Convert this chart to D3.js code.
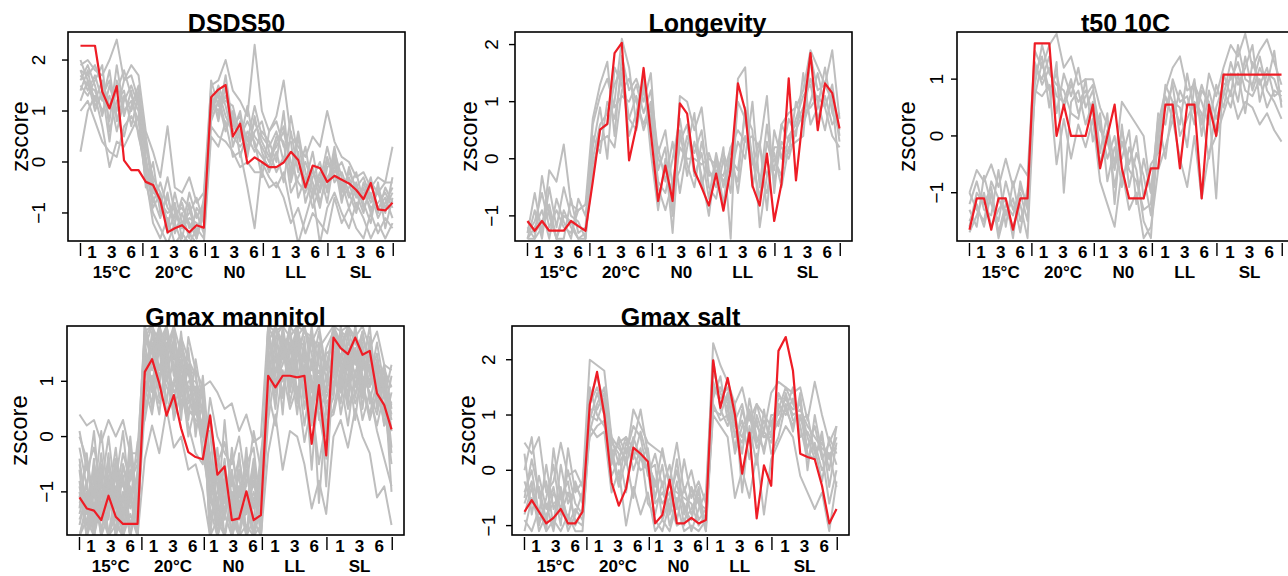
<!DOCTYPE html>
<html>
<head>
<meta charset="utf-8">
<script src="https://cdn.jsdelivr.net/npm/d3@7/dist/d3.min.js"></script>
<style>
  body { margin: 0; background: #fff; }
  text { font-family: 'Liberation Sans', Arial, sans-serif; }
</style>
</head>
<body>
<svg id="chart" width="1288" height="576"></svg>
<script>
// x axis: 44 samples, 5 conditions, time labels inside each condition
const groupLabels = ['15°C', '20°C', 'N0', 'LL', 'SL'];
const timeLabels = ['1', '3', '6'];
const groupEdges = [0, 8.6, 17.2, 25.2, 34.1, 43.1]; // tick marks on the sample index axis
const nSamples = 44;

// DSDS50
const dsds50Red = [2.28,2.28,2.28,1.38,1.05,1.49,0.03,-0.16,-0.16, -0.39,-0.45,-0.75,-1.38,-1.3,-1.24,-1.38,-1.24,-1.29,
  1.27,1.42,1.51,0.5,0.75,-0.03,0.09,0.0, -0.1,-0.1,-0.01,0.2,0.04,-0.5,-0.07,-0.12,-0.39,
  -0.27,-0.35,-0.42,-0.55,-0.73,-0.41,-0.93,-0.95,-0.8];
const dsds50Gray = [
  [1.9,2.0,1.8,1.7,2.0,2.4,1.6,1.9,1.7, 0.6,0.2,-0.3,0.7,-0.5,-0.6,-0.3,-0.8,-0.6, 1.5,1.6,2.0,1.4,1.2,0.9,2.3,1.0, 0.6,0.9,1.6,0.5,0.3,0.1,0.5,0.3,1.0, 0.4,0.1,0.0,-0.3,-0.2,-0.5,-0.3,-0.4,0.3],
  [0.2,1.0,1.3,0.7,-0.1,0.4,0.3,0.6,0.9, -0.4,-1.0,-1.3,-1.6,-1.2,-1.6,-1.4,-1.6,-1.6, 0.5,0.3,0.8,0.1,0.2,-0.5,-1.3,0.0, -0.3,-0.5,-0.2,-0.9,-1.6,-1.1,-0.6,-1.6,-0.9, -0.6,-1.0,-1.3,-0.8,-1.1,-1.5,-1.2,-1.5,-1.2],
  [1.7,1.5,1.4,1.0,1.3,0.6,1.2,1.5,1.1, 0.0,-0.5,-0.8,-1.0,-0.9,-1.3,-1.1,-1.2,-1.3, 1.2,1.0,1.3,0.8,0.6,0.3,0.8,0.4, 0.1,0.3,0.6,0.0,-0.4,-0.6,-0.1,-0.8,-0.3, -0.1,-0.5,-0.3,-0.7,-0.6,-0.9,-0.8,-0.6,-0.9],
  [1.8,1.7,1.9,1.5,0.8,1.9,1.0,1.2,0.8, -0.2,-0.7,-1.1,-0.6,-1.4,-1.0,-1.5,-0.9,-1.1, 1.0,1.5,1.1,0.5,0.3,0.5,0.2,0.6, 0.4,0.0,1.0,-0.4,0.2,-0.8,-0.3,0.0,-0.6, 0.2,-0.3,-0.7,-0.4,-0.9,-0.6,-1.1,-0.8,-0.5],
  [1.5,1.3,1.6,1.9,0.6,1.2,1.4,0.7,1.3, 0.3,-0.3,-0.6,-1.2,-0.8,-1.5,-0.8,-1.4,-0.9, 0.8,1.2,0.6,1.0,0.1,0.6,0.4,-0.3, 0.6,0.8,0.3,0.4,-0.7,-0.3,-0.9,-0.5,0.1, -0.4,-0.2,-0.6,-1.0,-0.4,-0.8,-0.6,-1.0,-0.3],
  [1.4,1.8,1.1,1.3,1.6,0.9,0.5,1.1,1.5, 0.1,-0.8,-0.4,-0.9,-1.1,-0.8,-1.3,-1.0,-1.4, 1.4,0.8,1.5,0.3,0.8,0.1,0.9,0.2, -0.2,0.2,-0.4,0.6,-0.2,0.3,-0.6,-0.2,-0.8, 0.1,-0.7,-0.5,-0.2,-0.8,-1.2,-0.4,-1.3,-0.7],
  [2.0,1.6,1.2,1.6,1.1,1.4,1.8,1.3,1.0, -0.5,0.0,-1.0,-0.7,-1.2,-0.7,-0.9,-1.5,-1.0, 0.9,1.4,0.9,0.6,1.0,0.2,0.6,0.8, 0.2,-0.2,0.1,-0.3,0.5,-0.5,-0.2,-0.4,0.3, -0.3,-0.4,-0.9,-0.5,-0.3,-0.7,-0.9,-0.7,-1.1],
  [1.6,1.9,1.5,0.9,1.5,1.0,1.6,1.7,1.2, 0.4,-0.6,-0.7,-1.3,-0.6,-1.2,-1.0,-0.7,-1.2, 1.6,1.1,1.2,1.1,0.5,0.8,0.5,0.3, 0.0,0.5,0.4,-0.6,-0.3,0.0,-0.4,-0.9,-0.1, 0.0,-0.8,-0.1,-0.6,-1.0,-0.4,-0.6,-0.4,-0.4],
  [1.0,1.2,0.8,0.4,0.2,0.1,0.7,0.9,0.6, -0.3,-1.2,-1.5,-1.1,-1.6,-1.4,-1.6,-1.3,-1.5, 0.7,0.5,0.4,0.2,-0.1,0.0,-0.2,-0.2, -0.5,-0.4,-0.7,-1.2,-0.9,-1.4,-1.0,-1.2,-1.4, -0.7,-1.2,-0.9,-1.3,-1.5,-1.0,-1.4,-1.1,-1.3],
  [1.8,1.4,1.7,1.2,1.8,0.8,1.3,1.0,1.4, 0.5,-0.4,-0.9,-0.3,-1.0,-1.3,-0.6,-1.1,-0.8, 1.3,0.9,1.7,0.7,0.9,0.4,1.1,0.5, 0.3,0.6,0.0,0.9,0.1,-0.4,0.2,-0.6,0.0, -0.2,0.0,-0.4,-0.9,-0.5,-1.0,-0.5,-0.9,-0.6],
  [1.2,1.6,1.0,1.4,0.4,1.6,0.9,1.4,0.5, -0.1,-0.9,-0.6,-1.4,-1.0,-0.9,-1.2,-1.5,-0.7, 1.1,1.3,0.7,0.9,0.4,1.1,0.3,0.1, -0.1,0.4,0.7,-0.2,0.6,-0.2,-0.7,-0.3,-0.5, 0.3,-0.6,-0.2,-0.5,-0.7,-0.3,-1.0,-0.5,-0.8]
];

// Longevity
const longevityRed = [-1.09,-1.26,-1.09,-1.26,-1.26,-1.26,-1.09,-1.18,-1.26, -0.4,0.51,0.61,1.85,2.03,-0.03,0.56,1.59,0.45,
  -0.74,-0.12,-0.74,0.97,0.79,-0.21,-0.5,-0.82, -0.26,-0.91,-0.18,1.32,0.85,-0.47,-0.82,0.09,-1.09,
  -0.44,1.41,-0.38,0.79,1.85,0.5,1.32,1.15,0.53];
const longevityGray = [
  [-1.3,-0.6,-1.3,-0.2,-0.4,0.25,-0.8,-0.9,-0.8, 0.7,1.3,1.7,0.4,1.8,1.2,1.4,1.0,1.5, -0.2,0.2,-1.0,1.1,1.0,0.5,0.9,-0.2, -0.5,0.2,-1.4,1.4,1.6,-0.5,0.2,1.1,-0.6, 0.6,0.8,0.9,1.2,1.9,1.6,1.3,1.9,0.7],
  [-1.4,-1.2,-0.9,-1.4,-0.7,-1.1,-1.4,-0.7,-1.0, 0.2,0.9,0.0,1.6,1.3,0.7,1.1,0.5,0.9, -0.5,-0.9,-0.4,0.3,0.6,-0.3,0.1,-0.7, 0.1,-0.5,0.0,-0.2,0.8,0.5,-1.2,-0.3,0.0, -0.3,0.4,0.6,0.9,1.4,1.0,0.5,1.2,0.3],
  [-1.2,-1.4,-0.3,-1.0,-1.4,-0.9,-1.2,-1.4,-1.3, -0.3,0.5,0.6,1.0,2.1,1.6,0.6,1.3,0.4, 0.2,-0.4,0.3,-0.6,0.2,0.8,-0.5,0.1, -0.3,0.1,-0.3,0.3,0.0,1.0,-0.5,0.6,-0.4, 0.3,0.1,1.0,0.6,1.0,1.5,0.9,0.4,0.2],
  [-1.4,-0.9,-1.4,-0.5,-1.2,-0.5,-1.0,-1.1,-1.4, 0.4,0.1,1.0,0.7,1.5,0.4,0.8,1.4,0.1, -0.9,0.0,-1.3,0.5,-0.3,0.3,-0.3,-1.0, 0.0,-0.8,0.2,-0.6,0.4,-0.1,0.3,-0.9,0.5, 0.0,0.7,0.4,1.5,0.6,0.9,1.6,0.8,0.5],
  [-1.1,-1.3,-1.1,-0.8,-1.4,-1.4,-0.7,-1.3,-1.2, 0.6,1.1,1.4,0.9,1.1,1.0,1.3,0.8,1.2, 0.1,0.5,-0.5,-0.2,0.4,0.1,0.5,-0.5, -0.7,0.0,-0.6,1.0,0.7,0.0,-0.7,0.3,-0.2, 0.6,0.3,0.7,1.1,1.3,0.7,1.1,0.6,0.8],
  [-1.3,-1.1,-0.6,-1.2,-0.9,-1.2,-1.3,-0.9,-0.8, 0.0,0.6,0.8,1.3,1.6,0.7,0.5,1.2,0.7, -0.4,-0.6,0.0,0.7,-0.1,-0.5,0.3,-0.3, -0.2,-0.3,0.2,0.5,0.3,0.4,0.2,-0.3,0.1, -0.5,0.2,0.3,0.4,1.8,1.2,1.3,1.0,-0.2],
  [-1.4,-1.4,-1.2,-0.9,-1.4,-1.0,-1.1,-1.4,-1.4, -0.1,0.3,0.4,0.2,1.2,1.4,1.0,0.6,1.0, 0.0,-0.2,-0.6,0.2,0.0,0.0,-0.1,0.0, -0.1,-0.4,-0.1,-0.4,0.9,0.0,-0.3,-0.6,0.2, 0.2,0.0,0.5,0.8,0.9,1.1,0.9,1.3,0.4]
];

// t50 10C
const t50Red = [-1.65,-1.1,-1.1,-1.65,-1.1,-1.1,-1.65,-1.1,-1.1, 1.63,1.63,1.63,0.0,0.55,0.0,0.0,0.0,0.55,
  -0.57,0.0,0.55,-0.57,-1.1,-1.1,-1.1,-0.57, -0.57,0.55,0.55,-0.57,0.55,0.55,-1.1,0.55,0.0,
  1.08,1.08,1.08,1.08,1.08,1.08,1.08,1.08,1.08];
const t50Gray = [
  [-1.0,-0.6,-0.8,-0.5,-0.9,-0.4,-0.9,-0.5,-0.7, 1.5,1.2,1.6,1.8,1.2,1.4,0.9,1.0,1.0, 0.5,0.2,-0.5,0.6,0.4,0.2,0.0,-1.0, 0.2,0.8,1.2,1.4,0.8,0.9,0.2,1.1,0.7, 1.2,1.6,1.4,1.8,1.2,1.5,1.7,1.3,0.9],
  [-1.5,-1.2,-1.6,-1.0,-1.8,-1.3,-1.6,-1.2,-1.8, 0.8,0.7,0.9,-0.5,0.3,-0.4,0.2,-0.2,0.3, -0.8,-1.2,-1.6,-0.6,-1.3,-1.0,-1.8,-1.6, -0.6,-0.2,0.3,-0.4,-0.9,0.0,-1.1,-0.3,0.0, 0.4,0.8,0.3,0.6,0.5,0.2,0.4,0.1,-0.1],
  [-1.2,-0.8,-1.3,-1.4,-0.6,-1.6,-0.8,-1.5,-1.0, 1.1,1.4,0.5,1.3,-1.0,0.6,0.8,0.2,0.6, 0.2,-0.4,0.0,-0.9,-0.2,-0.6,-1.5,-1.8, 0.1,0.5,0.9,0.0,0.3,0.6,0.4,-0.4,0.5, 0.9,1.0,1.3,0.8,0.7,1.0,0.5,0.8,0.7],
  [-1.7,-1.4,-1.0,-1.6,-1.3,-1.1,-1.8,-0.8,-1.3, 1.3,0.9,1.2,0.7,0.6,1.0,0.4,0.7,0.9, -0.3,0.4,-1.2,0.2,-0.9,-0.3,-0.7,-1.4, 0.0,0.7,0.3,0.8,0.5,1.0,0.0,0.8,0.3, 0.7,1.3,0.9,1.2,1.6,0.6,1.1,1.0,0.6],
  [-1.3,-1.6,-0.7,-1.2,-1.5,-0.8,-1.3,-1.0,-1.5, 0.9,1.6,1.1,0.9,0.8,0.4,0.3,1.0,-0.1, 0.4,-0.8,-0.2,-0.4,0.1,-1.2,-0.4,-1.0, 0.3,-0.4,0.6,0.2,1.1,0.4,0.9,0.5,-1.1, 1.1,0.7,1.6,1.0,0.9,1.4,0.8,0.6,0.3],
  [-1.0,-1.3,-1.5,-0.8,-1.1,-1.4,-1.1,-1.7,-0.9, 1.2,1.0,1.4,0.4,1.1,0.7,1.2,0.5,0.8, 0.1,-0.1,-0.6,0.1,-0.5,0.0,-1.1,-0.5, -0.3,0.9,0.6,0.5,-0.2,0.9,0.6,0.2,0.9, 0.5,1.1,0.6,1.4,0.8,1.2,0.9,1.5,0.5],
  [-1.6,-1.0,-1.2,-0.9,-1.7,-1.2,-1.4,-0.9,-1.2, 0.7,1.3,0.8,1.1,0.5,0.9,0.6,0.8,0.4, -0.5,0.1,-0.9,-0.1,-0.6,-0.8,-1.3,-1.2, 0.4,0.2,1.0,0.6,0.7,0.2,0.8,0.6,0.1, 0.8,0.5,1.1,0.4,1.3,0.9,1.2,0.7,0.8]
];

// Gmax mannitol
const mannitolRed = [-1.1,-1.3,-1.34,-1.51,-1.07,-1.45,-1.58,-1.58,-1.58, 1.17,1.4,0.96,0.38,0.75,0.15,-0.28,-0.37,-0.41,
  0.38,-0.69,-0.54,-1.51,-1.48,-0.99,-1.51,-1.42, 1.1,0.89,1.1,1.1,1.07,1.1,-0.13,0.93,-0.34,
  1.79,1.6,1.49,1.79,1.48,1.55,0.78,0.57,0.13];
const mannitolGray = [
  [0.4,0.2,0.3,-0.1,0.3,0.0,0.3,-0.3,-0.3, 1.9,2.0,1.7,2.0,1.4,1.6,1.1,1.2,0.9, 1.0,0.8,0.5,0.6,0.1,0.4,-0.1,0.0, 2.0,1.9,2.0,1.8,2.0,1.9,1.7,2.0,1.2, 2.0,1.9,2.0,1.8,2.0,1.6,1.9,1.3,1.2],
  [-1.8,-1.5,-1.8,-1.2,-1.8,-1.6,-1.8,-1.4,-1.8, -0.4,0.2,-0.3,0.5,-0.2,0.0,-0.6,-0.5,-1.0, -1.8,-1.5,-1.8,-1.2,-1.8,-1.6,-1.8,-1.8, -0.3,0.4,-0.6,0.1,0.0,-0.5,-1.3,-0.8,-1.4, 0.0,0.3,-0.2,0.5,0.0,-0.3,-1.1,-0.9,-1.6],
  [0.1,-0.6,-0.2,-0.9,0.0,-1.1,-0.3,-0.8,-0.5, 1.2,1.6,1.1,1.4,0.8,1.0,0.5,0.3,0.2, 0.2,-0.5,-0.1,-0.9,-0.4,-1.2,-0.5,-1.0, 1.0,1.4,0.8,1.6,1.1,1.5,0.9,1.2,0.7, 1.1,1.4,0.9,1.6,1.0,1.3,0.6,0.9,0.3],
  [-0.5,-1.2,-0.6,-1.5,-0.4,-1.3,-0.7,-1.6,-1.1, 0.6,1.9,0.9,2.0,1.1,1.5,0.7,0.9,0.4, -0.6,-1.3,-0.4,-1.8,-0.9,-1.4,-0.8,-1.6, 1.6,0.6,2.0,0.9,1.7,0.5,1.4,0.3,0.9, 1.6,0.8,1.9,0.7,1.5,0.9,1.2,0.2,0.8],
  [-1.3,-0.3,-1.6,-0.5,-1.1,-0.2,-1.4,-0.6,-1.2, 1.5,0.8,1.8,0.6,1.6,0.5,1.3,0.1,0.6, -1.2,-0.2,-1.5,-0.7,-1.8,-0.6,-1.3,-0.5, 0.5,1.8,0.4,2.0,0.6,1.8,0.2,1.6,0.4, 0.7,1.9,1.0,2.0,0.8,1.7,0.5,1.1,-0.2],
  [-0.8,-1.8,-1.0,-1.8,-0.7,-1.8,-1.0,-1.8,-0.9, 2.0,1.3,2.0,1.0,1.8,1.2,0.9,0.6,0.0, -0.3,-1.8,-0.8,-1.8,-0.3,-1.8,-1.1,-1.2, 2.0,1.1,1.9,1.3,2.0,1.0,2.0,0.8,1.6, 1.9,1.2,1.6,1.1,1.8,1.4,0.9,1.3,0.5],
  [-0.2,-0.9,0.1,-1.3,-0.6,-0.8,0.1,-1.2,-0.1, 0.3,1.1,0.4,1.6,0.3,0.8,0.2,-0.3,-0.5, 0.7,0.0,-0.3,-0.5,0.0,-0.9,0.1,-0.6, 0.8,0.2,1.2,0.5,0.9,-0.1,0.6,-0.5,0.3, 0.4,1.0,0.2,1.2,0.3,0.8,0.1,-0.4,-0.9],
  [-1.6,-1.0,-1.4,-0.3,-1.5,-0.5,-1.6,-0.2,-1.5, 1.8,2.0,1.5,1.8,1.3,0.6,1.0,1.0,0.7, -1.0,-1.1,-1.8,-1.0,-1.5,-0.2,-1.8,-0.9, 1.3,2.0,1.5,1.9,1.3,2.0,1.2,1.9,1.0, 2.0,1.6,2.0,1.4,1.9,1.1,1.5,0.7,1.3],
  [-1.1,-0.5,-1.3,-0.7,-1.8,-0.9,-1.2,-0.4,-1.6, 0.9,0.4,1.3,0.9,0.6,1.3,0.4,0.5,-0.2, -0.8,-0.7,-1.2,-0.3,-1.1,-0.5,-0.2,-1.4, 1.9,0.9,1.6,0.8,1.5,1.2,-0.6,1.1,-0.9, 1.3,0.6,1.5,0.9,1.7,0.6,1.3,0.4,0.1],
  [-1.8,-1.3,-0.9,-1.7,-1.0,-1.5,-0.5,-1.0,-1.8, 1.3,1.7,0.7,1.2,0.9,1.4,0.8,0.2,0.3, -1.5,-1.0,-0.6,-1.5,-0.6,-1.1,-1.5,-0.3, 0.7,1.5,1.0,1.4,0.4,1.6,1.0,0.5,1.1, 0.9,1.5,1.2,1.9,1.2,2.0,0.7,0.6,-0.5],
  [-0.4,-1.4,-0.5,-1.0,-1.3,-0.4,-0.9,-1.1,-0.7, 1.7,0.9,1.9,1.3,2.0,0.9,1.5,0.7,0.1, 0.1,-1.4,0.3,-1.2,-0.7,-1.8,-0.6,-1.8, 1.2,1.6,0.7,1.7,1.2,0.8,1.8,0.4,-0.3, 1.5,0.4,1.1,0.6,1.0,0.4,1.0,0.2,0.6],
  [-1.4,-0.8,-1.8,-1.0,-0.9,-1.8,-0.5,-1.3,-1.0, 0.7,1.4,1.6,0.4,1.0,1.7,1.2,0.4,0.5, -1.8,-0.4,-1.0,-1.3,-1.8,-0.8,-0.9,-1.1, 1.8,1.0,1.3,1.9,0.8,1.3,0.3,1.7,0.6, 0.8,2.0,1.4,0.9,1.3,1.0,1.7,0.9,0.9],
  [0.0,-0.4,-1.1,0.1,-1.2,-0.6,-1.5,0.0,-1.3, 1.0,0.6,2.0,1.2,1.7,0.3,1.8,1.2,-0.4, 0.4,-0.9,-1.5,-0.2,-1.2,-1.3,-0.4,-1.8, 0.9,2.0,1.6,1.1,1.9,0.7,1.4,1.0,0.0, 1.7,1.3,0.6,1.6,0.5,1.5,0.8,1.2,0.1],
  [-0.9,-1.6,-0.4,-1.8,-0.8,-1.0,-1.8,-0.7,-0.4, 2.0,1.5,1.0,1.7,0.5,1.9,0.6,0.8,0.8, -0.9,-1.8,-1.3,-0.7,-1.2,-1.0,-1.8,-0.6, 1.5,0.5,1.8,1.0,1.6,1.7,0.8,0.9,-0.4, 2.0,1.7,0.7,2.0,1.1,0.8,0.4,1.0,-1.0],
  [-1.8,-1.2,-1.8,-0.8,-1.8,-1.1,-1.8,-1.8,-1.2, 1.6,2.0,1.2,1.9,1.5,1.1,0.3,1.4,0.6, -1.8,-0.6,-1.8,-1.0,-1.8,-1.8,-0.5,-1.8, 2.0,1.7,1.4,2.0,1.8,1.1,1.9,1.3,0.8, 1.3,1.9,1.8,1.3,1.9,1.2,1.1,0.4,1.1],
  [-1.0,-1.8,-1.4,-0.6,-1.8,-1.4,-1.1,-1.8,-0.6, 1.1,1.8,1.9,1.5,1.9,0.8,1.6,0.0,1.1, -0.4,-1.2,-1.8,-1.8,-0.9,-1.8,-1.8,-1.3, 1.7,2.0,1.0,1.5,2.0,1.4,0.6,1.5,1.3, 1.8,1.0,1.7,1.5,0.7,1.8,0.9,1.0,0.4],
  [-1.5,-1.1,-0.8,-1.8,-1.4,-0.7,-1.8,-1.1,-1.8, 2.0,1.2,1.5,2.0,1.2,1.8,1.4,1.1,0.4, -1.3,-1.8,-0.9,-1.5,-1.8,-1.2,-1.8,-1.8, 1.4,1.8,2.0,1.2,1.8,2.0,1.5,0.6,1.5, 1.6,1.8,1.3,1.8,1.6,0.9,1.4,0.8,0.6],
  [-0.6,-1.8,-1.2,-1.5,-0.3,-1.8,-1.3,-1.6,-1.4, 1.4,0.5,1.7,1.0,1.3,0.6,0.9,0.9,-0.3, -1.1,-1.6,-0.7,-1.8,-1.4,-0.4,-1.8,-1.6, 0.3,1.2,1.8,0.6,1.3,0.2,1.1,-1.2,0.5, 1.0,0.8,1.3,0.3,1.4,0.7,0.2,0.8,-0.3],
  [-1.8,-1.8,-0.7,-1.4,-1.8,-1.2,-0.8,-1.8,-1.8, 1.8,1.5,2.0,1.6,2.0,1.5,1.3,0.5,0.9, -1.8,-1.8,-1.4,-1.8,-1.2,-1.8,-1.5,-1.8, 2.0,2.0,1.7,1.8,1.5,1.9,1.8,1.6,1.8, 2.0,1.4,2.0,1.7,1.4,1.5,1.2,1.2,0.9],
  [-1.2,-0.9,-1.7,-1.1,-0.5,-1.5,-1.8,-0.9,-1.5, 0.5,1.0,0.6,1.1,0.4,1.1,0.0,0.6,0.2, -0.7,-1.5,-1.1,-0.6,-1.5,-1.4,-1.0,-1.5, 1.1,0.8,1.5,1.3,0.7,1.1,0.5,0.9,0.2, 0.5,1.2,0.5,1.0,0.9,0.3,0.8,0.3,0.4]
];

// Gmax salt
const saltRed = [-0.75,-0.54,-0.75,-0.96,-0.86,-0.7,-0.96,-0.96,-0.75, 1.19,1.78,1.01,-0.22,-0.64,-0.33,0.41,0.3,0.16,
  -0.96,-0.81,-0.17,-0.96,-0.96,-0.86,-0.96,-0.9, 1.99,1.13,1.67,1.01,-0.06,0.68,-0.87,0.09,-0.28,
  2.16,2.41,1.8,0.3,0.24,0.2,-0.28,-0.96,-0.7];
const saltGray = [
  [0.5,0.3,0.6,-0.4,-0.2,0.5,-0.1,0.0,-0.3, 2.0,1.9,1.8,0.6,0.4,0.2,1.1,0.8,0.5, 0.4,0.3,-0.2,0.5,-0.4,0.0,-0.6,-0.7, 2.3,1.9,1.6,1.2,1.5,0.9,1.2,0.7,1.4, 1.6,1.5,1.4,1.5,0.9,1.6,1.0,0.5,0.8],
  [-0.9,-1.1,-0.7,-1.1,-0.9,-1.1,-0.8,-1.1,-1.1, 0.8,0.6,0.7,-0.4,0.0,-1.0,-0.3,-0.8,-0.4, -1.1,-0.9,-1.1,-0.6,-1.1,-1.0,-1.1,-0.9, 1.0,0.8,0.6,-0.5,0.0,-0.5,0.3,-0.8,0.2, 0.5,0.8,0.6,-0.1,-0.4,-0.7,-0.4,-1.1,-0.2],
  [-0.2,-0.6,-0.3,-0.9,-0.4,-0.7,0.0,-0.6,-0.8, 1.2,1.5,1.1,0.4,-0.2,0.5,0.3,0.0,0.1, -0.2,-0.6,-0.4,-0.9,-0.3,-0.8,-0.5,-1.0, 1.6,1.2,1.3,0.8,0.6,1.1,0.5,0.9,0.6, 1.2,1.0,1.3,0.8,0.2,0.5,0.0,0.3,0.4],
  [0.0,0.6,-0.5,-0.2,-1.0,0.1,-0.6,-0.3,-0.5, 1.0,0.9,1.3,0.1,0.6,0.3,0.8,0.6,-0.1, 0.3,-0.3,0.1,-0.7,0.2,-0.5,-0.2,-0.6, 1.8,1.4,1.1,0.4,1.1,0.6,0.9,0.3,1.0, 1.0,1.3,1.1,1.2,0.6,0.2,0.6,0.0,0.8],
  [-0.6,-0.2,-1.0,-0.5,0.1,-0.8,-0.4,-0.9,-1.0, 0.7,1.2,1.5,0.5,0.3,-0.4,0.5,1.1,0.3, -0.5,0.1,-0.8,-0.2,-1.0,-0.3,-0.9,-0.7, 1.3,1.7,0.9,1.0,0.3,1.3,0.6,0.4,0.9, 0.8,1.4,0.9,1.0,0.4,0.8,0.2,0.5,0.1],
  [-0.4,0.0,-0.8,0.1,-0.7,-0.4,-0.9,-0.2,-0.6, 1.5,1.0,0.8,0.3,0.5,0.1,0.6,0.2,0.0, 0.1,-0.9,-0.5,0.0,-0.7,-0.9,-0.3,-1.1, 1.1,1.0,1.4,0.6,0.9,0.2,1.0,0.6,0.7, 1.4,1.1,1.5,0.6,0.7,0.4,-0.2,0.6,0.3],
  [-1.1,-0.5,-0.9,-0.6,-1.1,-0.3,-1.0,-0.7,-0.9, 0.9,1.4,1.0,-0.1,0.2,0.6,0.0,0.4,-0.6, -0.8,-0.2,-1.0,-0.5,-0.6,-1.1,-0.7,-0.4, 2.0,1.1,0.8,1.2,-0.4,0.8,0.1,1.1,0.3, 0.6,1.2,0.7,1.4,0.0,1.0,0.3,-0.6,0.0],
  [0.3,-0.8,-0.1,-0.7,-0.3,-1.0,0.4,-0.4,-0.2, 1.1,1.1,1.4,0.6,0.1,0.4,0.2,0.7,0.2, -0.3,0.4,-0.3,-0.4,-0.5,-0.6,-1.0,-0.8, 1.4,1.5,1.2,0.3,0.8,1.0,0.4,0.7,0.5, 1.1,1.5,1.2,0.9,1.0,0.3,0.5,0.2,0.6],
  [-0.5,0.2,-0.4,-1.1,0.4,-0.5,-0.2,-1.0,-0.7, 1.3,1.7,1.2,0.2,0.5,0.6,0.4,0.2,0.4, -0.6,-0.4,-0.7,0.2,-0.8,-0.3,-0.6,-1.1, 1.5,1.3,1.5,0.9,1.2,0.5,1.2,1.0,0.8, 1.3,1.3,1.0,1.1,0.8,0.6,0.4,0.3,-0.3],
  [-0.8,-0.3,-1.1,-0.8,-0.6,-0.5,-1.1,-0.8,-0.4, 0.6,0.8,0.9,0.3,-0.3,0.2,-0.5,0.3,0.0, -0.9,-1.1,-0.6,-1.0,-0.9,-0.7,-0.4,-1.0, 1.2,0.9,1.0,0.7,0.5,1.0,0.8,0.6,0.6, 0.9,1.1,0.8,1.3,0.3,0.2,0.7,-0.3,0.5]
];

// plot boxes (layout only)
const panels = [
  { title: 'DSDS50', red: dsds50Red, gray: dsds50Gray, x: 68, y: 32, ylim: [-1.55, 2.55], yticks: [-1, 0, 1, 2], labOff: 23, ylabOff: 40, titleDx: 0 },
  { title: 'Longevity', red: longevityRed, gray: longevityGray, x: 515, y: 32, ylim: [-1.44, 2.22], yticks: [-1, 0, 1, 2], labOff: 17, ylabOff: 38, titleDx: 24 },
  { title: 't50 10C', red: t50Red, gray: t50Gray, x: 957, y: 32, ylim: [-1.85, 1.83], yticks: [-1, 0, 1], labOff: 14, ylabOff: 42, titleDx: 0 },
  { title: 'Gmax mannitol', red: mannitolRed, gray: mannitolGray, x: 67, y: 326, ylim: [-1.78, 2.0], yticks: [-1, 0, 1], labOff: 14, ylabOff: 40, titleDx: 0 },
  { title: 'Gmax salt', red: saltRed, gray: saltGray, x: 512, y: 326, ylim: [-1.17, 2.61], yticks: [-1, 0, 1, 2], labOff: 17, ylabOff: 37, titleDx: 0 }
];
const boxW = 337, boxH = 209;

const svg = d3.select('#chart');
svg.append('rect').attr('width', 1288).attr('height', 576).attr('fill', '#fff');

panels.forEach((p, pi) => {
  const pad = 0.04 * (nSamples - 1);
  const x = d3.scaleLinear().domain([-pad, nSamples - 1 + pad]).range([p.x, p.x + boxW]);
  const y = d3.scaleLinear().domain(p.ylim).range([p.y + boxH, p.y]);
  const g = svg.append('g');

  // clip to plot region
  const clipId = 'clip' + pi;
  g.append('clipPath').attr('id', clipId)
    .append('rect').attr('x', p.x).attr('y', p.y).attr('width', boxW).attr('height', boxH);

  const lineGen = d3.line().x((d, i) => x(i)).y(d => y(d));
  const plot = g.append('g').attr('clip-path', `url(#${clipId})`);

  plot.selectAll('.grayLine')
    .data(p.gray)
    .join('path')
    .attr('class', 'grayLine')
    .attr('fill', 'none')
    .attr('stroke', '#bebebe')
    .attr('stroke-width', 2)
    .attr('stroke-linejoin', 'round')
    .attr('d', lineGen);

  plot.append('path')
    .datum(p.red)
    .attr('fill', 'none')
    .attr('stroke', '#ee1c25')
    .attr('stroke-width', 2.2)
    .attr('stroke-linejoin', 'round')
    .attr('d', lineGen);

  // box
  g.append('rect')
    .attr('x', p.x).attr('y', p.y).attr('width', boxW).attr('height', boxH)
    .attr('fill', 'none').attr('stroke', '#000').attr('stroke-width', 1.6);

  // y axis ticks (labels rotated like R's default las = 0)
  const fmt = d3.format('d');
  p.yticks.forEach(t => {
    g.append('line')
      .attr('x1', p.x - 6).attr('x2', p.x)
      .attr('y1', y(t)).attr('y2', y(t))
      .attr('stroke', '#000').attr('stroke-width', 1.4);
    g.append('text')
      .attr('transform', `translate(${p.x - p.labOff},${y(t)}) rotate(-90)`)
      .attr('text-anchor', 'middle')
      .attr('font-size', 19)
      .text(fmt(t));
  });

  g.append('text')
    .attr('transform', `translate(${p.x - p.ylabOff},${p.y + boxH / 2}) rotate(-90)`)
    .attr('text-anchor', 'middle')
    .attr('font-size', 24)
    .text('zscore');

  // x axis: condition boundaries, time labels, condition names
  const bottom = p.y + boxH;
  groupEdges.forEach(e => {
    g.append('line')
      .attr('x1', x(e)).attr('x2', x(e))
      .attr('y1', bottom + 2).attr('y2', bottom + 15)
      .attr('stroke', '#000').attr('stroke-width', 1.4);
  });
  groupLabels.forEach((lab, gi) => {
    const cx = (x(groupEdges[gi]) + x(groupEdges[gi + 1])) / 2;
    timeLabels.forEach((t, ti) => {
      g.append('text')
        .attr('x', cx + (ti - 1) * 19.6)
        .attr('y', bottom + 17)
        .attr('text-anchor', 'middle')
        .attr('font-size', 17)
        .attr('font-weight', 'bold')
        .text(t);
    });
    g.append('text')
      .attr('x', cx)
      .attr('y', bottom + 37)
      .attr('text-anchor', 'middle')
      .attr('font-size', 17)
      .attr('font-weight', 'bold')
      .text(lab);
  });

  // title
  g.append('text')
    .attr('x', p.x + boxW / 2 + p.titleDx)
    .attr('y', p.y - 0.5)
    .attr('text-anchor', 'middle')
    .attr('font-size', 25)
    .attr('font-weight', 'bold')
    .text(p.title);
});
</script>
</body>
</html>
